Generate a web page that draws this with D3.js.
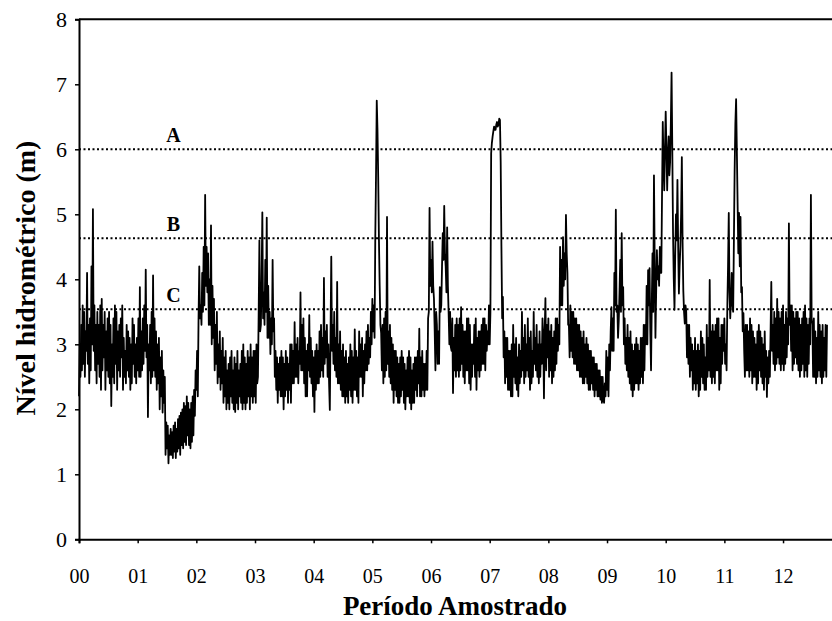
<!DOCTYPE html>
<html>
<head>
<meta charset="utf-8">
<script src="https://cdn.jsdelivr.net/npm/d3@7"></script>
<style>
  html, body { margin: 0; padding: 0; background: #fff; }
  svg { display: block; }
  svg text { font-family: "Liberation Serif", "Times New Roman", serif; fill: #000; }
</style>
</head>
<body>
<svg id="chart" width="832" height="621"></svg>
<script>
// Nível hidrométrico: 80 leituras por ano (passo de 1/80 de ano)
const passo = 1 / 80;
const nivel = [
  // 00
  2.2,3.0,2.5,3.3,2.6,3.6,2.7,3.5,2.5,3.2, 2.9,4.1,2.7,3.3,2.4,3.4,2.6,4.2,3.0,5.08,
  2.9,3.6,2.6,3.3,2.4,3.5,2.7,3.3,2.5,3.6, 2.3,3.7,2.6,3.3,2.8,3.5,2.3,3.2,2.6,3.4,
  2.5,3.5,2.4,3.3,2.05,3.0,2.5,3.4,2.4,3.6, 2.7,3.5,2.3,3.2,2.6,3.3,2.5,3.4,2.8,3.6,
  2.3,3.1,2.5,2.9,2.4,3.3,2.6,3.2,2.5,3.1, 2.3,3.0,2.4,3.4,2.7,3.3,2.5,3.0,2.4,3.1,
  // 01
  2.6,3.4,2.5,3.88,2.5,3.2,2.6,3.4,2.7,3.6, 2.9,4.15,2.8,3.3,1.88,3.0,2.6,3.3,2.4,3.5,
  2.5,4.06,2.6,3.4,2.5,3.2,2.3,3.0,2.4,3.1, 2.0,2.8,2.2,2.9,1.95,2.6,2.1,2.5,1.3,1.8,
  1.4,1.75,1.17,1.6,1.3,1.7,1.3,1.65,1.25,1.75, 1.35,1.8,1.25,1.7,1.35,1.85,1.4,1.9,1.3,1.95,
  1.45,2.0,1.4,2.1,1.5,2.05,1.45,2.2,1.6,2.1, 1.45,2.0,1.4,2.1,1.5,2.2,1.6,2.3,1.9,2.6,
  // 02
  2.3,2.9,2.2,3.4,4.2,3.4,3.6,3.3,4.1,3.5, 4.5,3.6,5.3,3.9,4.5,3.8,4.4,3.3,4.0,3.3,
  4.83,3.0,3.9,3.1,3.7,2.6,3.3,2.7,3.5,2.4, 3.0,2.5,3.2,2.3,2.9,2.4,3.1,2.1,2.8,2.2,
  2.9,2.0,2.6,2.1,2.7,2.0,2.8,2.2,2.9,2.1, 2.6,2.0,2.8,1.96,2.7,2.1,2.9,2.0,2.6,2.2,
  2.7,2.1,2.9,2.0,3.0,2.1,2.8,2.0,2.7,2.1, 2.9,2.2,2.8,2.0,3.0,2.2,2.8,2.1,2.9,2.2,
  // 03
  2.9,2.1,3.0,2.4,2.5,3.5,4.6,3.2,3.3,4.0, 5.03,3.4,3.8,3.3,4.3,3.5,4.95,3.1,3.9,3.1,
  3.5,2.85,3.4,3.0,4.3,3.2,3.4,2.5,2.9,2.3, 2.8,2.1,2.7,2.3,2.8,2.2,2.9,2.2,2.8,2.0,
  2.7,2.2,2.9,2.3,2.8,2.1,2.7,2.3,3.0,2.1, 3.0,2.4,2.9,2.4,3.34,2.5,3.0,2.5,3.1,2.4,
  2.9,2.7,3.8,2.6,3.3,2.6,3.4,2.4,3.1,2.2, 2.9,2.2,3.0,2.6,3.45,2.5,3.1,2.4,2.9,2.2,
  // 04
  2.8,1.96,2.9,2.3,3.0,2.4,2.9,2.4,3.2,2.5, 3.3,2.6,3.1,2.5,4.02,2.7,3.2,2.8,3.3,2.5,
  3.0,2.4,1.99,3.2,4.35,2.9,3.3,2.7,3.5,2.6, 3.1,2.5,3.96,2.4,3.0,2.4,3.2,2.3,2.9,2.2,
  3.0,2.2,2.8,2.1,2.9,2.2,2.7,2.1,2.8,2.3, 3.0,2.2,2.9,2.1,2.8,2.3,3.23,2.3,2.9,2.2,
  2.8,2.1,3.2,2.5,3.0,2.5,3.1,2.2,2.9,2.4, 3.0,2.6,3.2,2.6,3.3,2.7,3.1,2.8,3.5,3.0,
  // 05
  3.7,3.2,3.6,3.1,4.65,5.6,6.75,6.3,5.57,4.6, 3.9,3.3,3.17,2.6,3.3,2.4,3.4,2.5,3.5,2.6,
  4.96,2.7,3.2,2.5,3.3,2.4,3.1,2.3,3.0,2.1, 2.9,2.3,2.9,2.2,2.8,2.1,2.7,2.1,2.8,2.2,
  2.9,2.3,2.8,2.1,2.7,2.0,2.6,2.2,2.8,2.2, 2.9,2.1,2.8,2.0,2.6,2.1,2.7,2.1,2.8,2.3,
  2.8,2.2,2.9,2.4,3.24,2.2,2.8,2.2,2.9,2.3, 2.7,2.2,2.7,2.3,2.9,2.3,3.4,3.5,5.1,3.9,
  // 06
  4.3,3.8,4.58,3.9,3.7,3.2,2.6,3.5,3.3,2.7, 3.2,2.7,3.88,3.5,3.6,4.2,4.71,4.3,5.13,4.4,
  4.2,3.8,4.8,3.9,3.48,3.0,3.5,2.96,2.9,3.4, 2.25,3.1,2.6,3.3,2.5,3.4,2.6,3.3,2.5,3.4,
  2.6,3.57,2.7,3.3,2.5,3.2,2.4,3.2,2.6,3.4, 2.6,3.4,2.4,3.3,2.3,3.0,2.5,3.0,2.7,3.3,
  2.5,3.4,2.3,3.1,2.6,3.2,2.5,3.2,2.6,3.3, 2.7,3.4,2.7,3.4,2.6,3.3,2.9,3.2,3.0,3.6,
  // 07
  3.0,3.5,5.94,6.1,6.2,6.28,6.35,6.3,6.3,6.38, 6.42,6.35,6.38,6.47,6.45,5.8,4.5,3.4,3.73,2.8,
  3.2,2.4,3.1,2.5,3.1,2.3,2.9,2.3,2.9,2.2, 3.0,2.2,3.3,2.5,3.0,2.4,3.1,2.3,2.8,2.2,
  3.0,2.4,2.9,2.5,3.5,2.6,3.1,2.4,3.3,2.5, 3.0,2.6,3.4,2.5,3.1,2.3,3.2,2.4,2.9,2.5,
  3.5,2.7,3.1,2.6,3.3,2.5,3.0,2.4,3.2,2.5, 3.0,2.7,3.4,3.1,2.17,3.2,3.71,2.6,3.3,2.8,
  // 08
  3.4,2.5,3.2,2.6,3.3,2.4,3.1,2.5,3.2,2.6, 3.4,2.7,3.4,2.9,3.3,3.0,4.5,3.6,4.3,3.6,
  4.65,3.9,4.4,4.0,4.99,4.4,4.1,3.3,3.3,2.8, 3.6,2.9,3.5,2.8,3.5,2.7,3.4,2.7,3.4,2.6,
  3.3,2.6,3.3,2.5,3.2,2.5,3.1,2.4,3.2,2.4, 3.0,2.5,3.1,2.4,3.0,2.3,2.9,2.3,2.9,2.4,
  2.8,2.3,2.8,2.2,2.7,2.3,2.7,2.2,2.6,2.2, 2.6,2.15,2.5,2.1,2.5,2.15,2.1,2.4,2.2,2.9,
  // 09
  2.3,2.8,2.2,3.0,2.6,3.2,3.57,2.9,3.4,2.9, 4.1,3.6,5.07,3.5,3.6,3.1,3.37,3.8,4.3,3.5,
  4.71,3.6,3.88,3.0,3.4,2.7,3.1,2.6,3.3,2.5, 3.1,2.4,3.2,2.3,3.0,2.2,2.9,2.3,3.0,2.4,
  3.1,2.4,3.0,2.3,2.9,2.4,3.1,2.5,3.1,2.4, 3.3,2.6,3.3,3.0,3.9,3.0,4.14,3.6,4.17,3.2,
  2.6,3.6,4.4,3.5,5.6,4.3,3.1,3.8,4.45,4.0, 4.2,3.9,4.5,4.1,4.1,5.3,6.42,5.8,5.37,6.0,
  // 10
  6.58,6.0,5.37,5.9,6.2,5.6,5.8,6.4,7.18,6.0, 4.71,4.0,3.53,4.4,5.0,4.6,5.53,4.5,3.78,4.2,
  4.5,5.0,5.88,4.6,3.83,3.5,3.32,3.6,3.5,2.8, 3.3,2.7,3.3,2.5,3.1,2.6,3.0,2.3,2.9,2.4,
  3.1,2.3,2.9,2.4,3.0,2.2,2.9,2.3,3.2,2.5, 3.1,2.4,3.0,2.3,2.8,2.3,3.3,2.5,3.1,2.6,
  3.99,2.5,3.2,2.4,3.3,2.5,3.2,2.4,3.3,2.6, 3.4,2.6,3.4,2.3,3.1,2.4,3.3,2.7,3.3,2.9,
  // 11
  3.4,2.7,3.0,2.6,3.57,4.2,5.02,3.8,3.4,3.7, 4.1,3.6,3.5,4.6,5.68,6.4,6.77,6.0,5.2,4.4,
  5.02,4.2,4.96,3.8,3.88,3.2,3.48,2.9,2.5,3.3, 2.6,3.3,2.6,3.2,2.5,3.4,2.6,3.3,2.4,3.2,
  2.5,3.1,2.5,3.0,2.3,3.2,2.4,3.3,2.6,3.2, 2.5,3.1,2.4,3.0,2.3,3.2,2.5,2.9,2.19,2.8,
  2.4,2.9,2.5,3.2,3.96,2.9,3.3,2.7,3.5,2.6, 3.4,2.7,3.7,2.8,3.5,2.7,3.4,2.6,3.5,2.7,
  // 12
  3.6,2.6,3.3,2.7,3.5,2.8,3.4,3.0,4.86,3.3, 3.6,2.9,3.6,2.6,3.5,2.7,3.4,2.8,3.5,2.7,
  3.5,2.6,3.4,2.5,3.3,2.6,3.4,2.7,3.5,2.5, 3.6,2.6,3.4,2.5,3.3,2.7,3.4,3.0,5.3,3.4,
  3.3,2.5,3.4,2.5,3.2,2.4,3.1,2.5,3.5,2.6, 3.3,2.5,3.2,2.4,3.3,2.5,3.1,2.6,3.3,2.5,
  3.3
];

// Cotas de referência
const limiares = [6.0, 4.63, 3.54];
const limiarRotulos = ["A", "B", "C"];

// Rótulos do eixo x (anos) e do eixo y
const anosRotulos = ["00","01","02","03","04","05","06","07","08","09","10","11","12"];
const yTicks = [0, 1, 2, 3, 4, 5, 6, 7, 8];

const svg = d3.select("#chart");
const margemEsq = 79, margemSup = 19.3, margemInf = 539.3, anoPx = 58.67;
const serif = '"Liberation Serif", "Times New Roman", serif';

const x = d3.scaleLinear().domain([0, 13]).range([margemEsq, margemEsq + 13 * anoPx]);
const y = d3.scaleLinear().domain([0, 8]).range([margemInf, margemSup]);

// Linhas de cota (pontilhadas)
svg.append("g").selectAll("line").data(limiares).join("line")
  .attr("x1", margemEsq).attr("x2", 832)
  .attr("y1", d => y(d)).attr("y2", d => y(d))
  .attr("stroke", "#000").attr("stroke-width", 2)
  .attr("stroke-dasharray", "2,2.5");

svg.append("g").selectAll("text").data(limiares).join("text")
  .attr("x", x(1.61)).attr("y", d => y(d) - 7.6)
  .attr("text-anchor", "middle")
  .attr("font-weight", "bold").attr("font-size", 20)
  .text((d, i) => limiarRotulos[i]);

// Série
const serie = nivel.map((v, i) => [i * passo, v]);
svg.append("path")
  .datum(serie)
  .attr("fill", "none").attr("stroke", "#000").attr("stroke-width", 1.8)
  .attr("stroke-linejoin", "round")
  .attr("d", d3.line().x(d => x(d[0])).y(d => y(d[1])));

// Moldura (topo)
svg.append("line")
  .attr("x1", margemEsq).attr("x2", 832).attr("y1", y(8)).attr("y2", y(8))
  .attr("stroke", "#000").attr("stroke-width", 2);

// Eixo y
const gy = svg.append("g").attr("transform", `translate(${margemEsq},0)`)
  .call(d3.axisLeft(y).tickValues(yTicks).tickFormat(d3.format("d")).tickSize(4).tickPadding(8));
gy.attr("font-family", null);
gy.select(".domain").attr("stroke-width", 2);
gy.selectAll(".tick line").attr("stroke-width", 1.5);
gy.selectAll(".tick text").attr("font-size", 22).style("font-family", serif).attr("fill", "#000");

// Eixo x
const gx = svg.append("g").attr("transform", `translate(0,${margemInf})`)
  .call(d3.axisBottom(x).tickValues(d3.range(anosRotulos.length)).tickFormat(i => anosRotulos[i]).tickSize(4).tickPadding(26));
gx.attr("font-family", null);
gx.select(".domain").attr("stroke-width", 2);
gx.selectAll(".tick line").attr("stroke-width", 1.5);
gx.selectAll(".tick text").attr("font-size", 20).style("font-family", serif).attr("fill", "#000");

// Títulos dos eixos
svg.append("text")
  .attr("x", 455).attr("y", 615)
  .attr("text-anchor", "middle").attr("font-weight", "bold").attr("font-size", 27)
  .text("Período Amostrado");

svg.append("text")
  .attr("transform", "translate(35,278) rotate(-90)")
  .attr("text-anchor", "middle").attr("font-weight", "bold").attr("font-size", 28)
  .text("Nível hidrométrico (m)");
</script>
</body>
</html>
